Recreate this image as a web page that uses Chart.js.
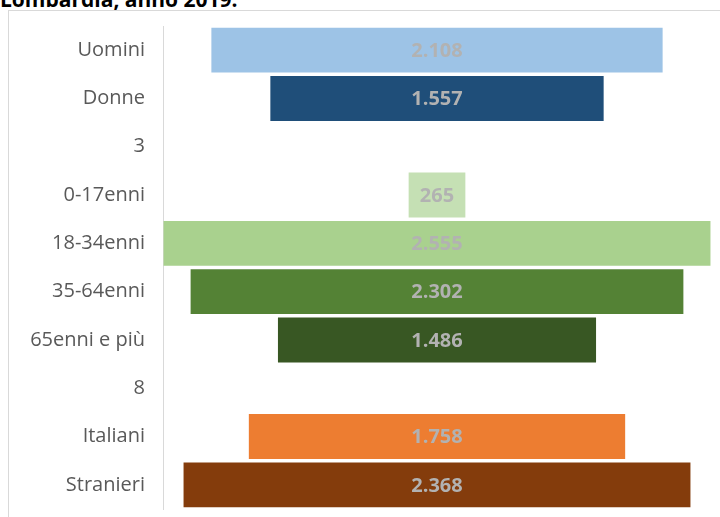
<!DOCTYPE html>
<html>
<head>
<meta charset="utf-8">
<script src="https://cdn.jsdelivr.net/npm/chart.js@4"></script>
<style>
  html, body { margin: 0; padding: 0; background: #fff; overflow: hidden; }
  #wrap { position: relative; width: 720px; height: 517px; }
  #title { position: absolute; left: 0; top: -12px; font: bold 21px "Open Sans", sans-serif; color: #000; white-space: nowrap; line-height: 22px; }
  #frame { position: absolute; left: 8px; top: 10px; width: 720px; height: 520px; border: 1px solid #d9d9d9; box-sizing: border-box; }
  canvas { position: absolute; left: 0; top: 0; }
</style>
</head>
<body>
<div id="wrap">
  <div id="frame"></div>
  <div id="title">Lombardia, anno 2019.</div>
  <canvas id="funnel" width="720" height="517"></canvas>
</div>
<script>
// funnel of counts by group; the "3" and "8" rows are empty spacers
const categories = ["Uomini", "Donne", "3", "0-17enni", "18-34enni", "35-64enni", "65enni e più", "8", "Italiani", "Stranieri"];
const values = [2108, 1557, null, 265, 2555, 2302, 1486, null, 1758, 2368];
const barColors = ["#9dc3e6", "#1f4e79", "#ffffff", "#c5e0b4", "#a9d18e", "#548235", "#385723", "#ffffff", "#ed7d31", "#843c0c"];

// Italian thousands separator
const fmt = (v) => String(v).replace(/\B(?=(\d{3})+(?!\d))/g, ".");

const valueLabels = {
  id: "valueLabels",
  afterDatasetsDraw(chart) {
    const ctx = chart.ctx;
    const meta = chart.getDatasetMeta(0);
    ctx.save();
    ctx.font = "bold 20px 'Open Sans', sans-serif";
    ctx.fillStyle = "#b2b2b2";
    ctx.textAlign = "center";
    ctx.textBaseline = "middle";
    meta.data.forEach((bar, i) => {
      if (values[i] == null) return;
      const p = bar.getProps(["x", "y", "base"], true);
      ctx.fillText(fmt(values[i]), (p.x + p.base) / 2, p.y + 1);
    });
    ctx.restore();
  },
};

new Chart(document.getElementById("funnel"), {
  type: "bar",
  data: {
    labels: categories,
    datasets: [{
      data: values.map((v) => (v == null ? null : [-v / 2, v / 2])),
      backgroundColor: barColors,
      borderWidth: 0,
      barPercentage: 0.93,
      categoryPercentage: 1,
    }],
  },
  options: {
    indexAxis: "y",
    responsive: false,
    animation: false,
    layout: { padding: { top: 26, bottom: 8, left: 0, right: 9 } },
    plugins: { legend: { display: false }, tooltip: { enabled: false } },
    scales: {
      x: { display: false, min: -1280, max: 1280 },
      y: {
        grid: { display: false, drawTicks: false },
        border: { display: true, color: "#d9d9d9" },
        ticks: { color: "#595959", padding: 18, font: { family: "'Open Sans', sans-serif", size: 20 } },
        afterFit(scale) {
          scale.width = 163;
          // tick padding would otherwise eat into the plot height
          scale.paddingTop = 0;
          scale.paddingBottom = 0;
        },
      },
    },
  },
  plugins: [valueLabels],
});
</script>
</body>
</html>
